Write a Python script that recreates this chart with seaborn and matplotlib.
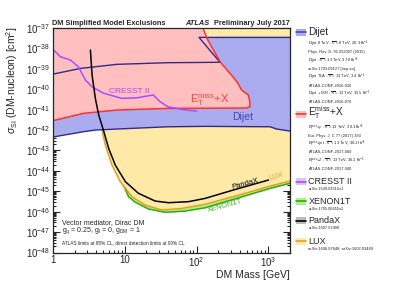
import numpy as np
import seaborn as sns
from matplotlib import pyplot as plt
from matplotlib.lines import Line2D
from matplotlib.patches import Rectangle
from matplotlib.ticker import LogLocator, NullFormatter

# --- values (mass in GeV, cross-section as log10 of cm^2) ---
dijet_low_mass = [1, 2.68, 3.9, 7.8, 40, 131, 1050, 1300, 2000]
dijet_low_logsig = [-42.34, -42.08, -42.0, -41.95, -41.84, -41.82, -41.84, -41.95, -42.05]
dijet_up_mass = [1, 2.41, 7.8, 40, 212, 108, 2000]
dijet_up_logsig = [-39.26, -38.98, -38.78, -38.70, -38.68, -37.46, -37.46]

etmiss_mass = [1, 2.68, 7.8, 40, 500, 553, 553, 524, 424, 377, 321, 212, 139, 123, 118]
etmiss_logsig = [-41.54, -41.18, -41.02, -40.94, -40.92, -40.86, -40.61, -40.28,
                 -40.04, -39.71, -39.39, -38.65, -37.5, -37.0, -36.8]

cresst_mass = [1, 1.27, 1.75, 2.26, 2.83, 3.5, 5.0, 9.1, 14.8, 24.9, 31, 40, 65, 100]
cresst_logsig = [-38.05, -38.41, -38.57, -38.9, -39.55, -39.88, -40.19, -40.45,
                 -40.42, -40.28, -40.61, -40.86, -41.0, -41.07]

pandax_mass = [3.32, 3.5, 3.89, 4.33, 5.08, 5.96, 7.38, 10.2, 15.5, 26.5, 40.6, 76.9, 131, 361, 1000]
pandax_logsig = [-38.08, -39.3, -40.45, -41.26, -42.05, -42.9, -43.72, -44.53, -45.1,
                 -45.48, -45.56, -45.51, -45.35, -44.89, -44.45]

lux_mass = [4.7, 4.95, 5.36, 6.64, 8.66, 12.6, 19.3, 32.9, 62.3, 131, 361, 1050, 2000]
lux_logsig = [-41.55, -42.2, -42.74, -43.72, -44.53, -45.27, -45.68, -45.92, -45.84,
              -45.64, -45.22, -44.75, -44.5]

xenon_mass = [6.0, 7.5, 9.5, 11.3, 14.0, 21.4, 36.5, 69.2, 131, 361, 1050, 2000]
xenon_logsig = [-42.0, -43.9, -44.68, -45.27, -45.54, -45.87, -46.03, -45.97, -45.81,
                -45.35, -44.86, -44.61]

x_ticks = [1, 10, 100, 1000]
x_tick_labels = ["1", "10", r"$10^{2}$", r"$10^{3}$"]

legend_entries = [
    ("Dijet", "#ababef", "#4a4ab0", [
        r"Dijet 8 TeV $\sqrt{s}$ = 8 TeV, 20.3 fb$^{-1}$",
        "Phys. Rev. D. 91 052007 (2015)",
        r"Dijet $\sqrt{s}$ = 13 TeV, 37.0 fb$^{-1}$",
        "arXiv:1703.09127 [hep-ex]",
        r"Dijet TLA $\sqrt{s}$ = 13 TeV, 3.4 fb$^{-1}$",
        "ATLAS-CONF-2016-030",
        r"Dijet + ISR $\sqrt{s}$ = 13 TeV, 15.5 fb$^{-1}$",
        "ATLAS-CONF-2016-070"]),
    (r"E$_{\mathrm{T}}^{\mathrm{miss}}$+X", "#ffbfbf", "#ff3030", [
        r"E$_{\mathrm{T}}^{\mathrm{miss}}$+$\gamma$ $\sqrt{s}$ = 13 TeV, 36.1 fb$^{-1}$",
        "Eur. Phys. J. C 77 (2017) 393",
        r"E$_{\mathrm{T}}^{\mathrm{miss}}$+jet $\sqrt{s}$ = 13 TeV, 36.1 fb$^{-1}$",
        "ATLAS-CONF-2017-060",
        r"E$_{\mathrm{T}}^{\mathrm{miss}}$+Z $\sqrt{s}$ = 13 TeV, 36.1 fb$^{-1}$",
        "ATLAS-CONF-2017-040"]),
    ("CRESST II", "#dcc0ff", "#a64dff", ["arXiv:1509.01515v1"]),
    ("XENON1T", "#b0f08a", "#33aa11", ["arXiv:1705.06655v2"]),
    ("PandaX", "#bbbbbb", "black", ["arXiv:1607.07400"]),
    ("LUX", "#ffe9a6", "#e0a020", ["arXiv:1608.07648; arXiv:1602.03489"]),
]


def sig(logs):
    return 10.0 ** np.array(logs)


sns.set_style("ticks")
plt.rcParams["font.family"] = ["Liberation Sans", "DejaVu Sans"]
plt.rcParams["mathtext.fontset"] = "custom"
plt.rcParams["mathtext.rm"] = "Liberation Sans"
plt.rcParams["mathtext.it"] = "Liberation Sans:italic"
plt.rcParams["mathtext.bf"] = "Liberation Sans:bold"

fig = plt.figure(figsize=(3.99, 2.86), dpi=100)
W, H = 399.0, 286.0
ax = fig.add_axes([53 / W, 1 - 252.5 / H, (290 - 53) / W, (252.5 - 28) / H])
ax.set_xscale("log")
ax.set_yscale("log")
ax.set_xlim(1, 2000)
ax.set_ylim(1e-48, 1e-37)
top = 1e-36

# fills, back to front
ax.fill_between(xenon_mass, sig(xenon_logsig), top, color="#b0f08a", lw=0, zorder=1)
sns.lineplot(x=xenon_mass, y=sig(xenon_logsig), ax=ax, color="#33aa11", lw=1.1,
             estimator=None, sort=False, zorder=1.5)
ax.fill_between(lux_mass, sig(lux_logsig), top, color="#ffe9a6", lw=0, zorder=2)
sns.lineplot(x=lux_mass, y=sig(lux_logsig), ax=ax, color="#e0a020", lw=1.1,
             estimator=None, sort=False, zorder=2.5)

dijet_x = dijet_low_mass + dijet_up_mass[::-1]
dijet_y = list(sig(dijet_low_logsig)) + list(sig(dijet_up_logsig)[::-1])
ax.fill(dijet_x, dijet_y, color="#ababef", lw=0, zorder=3)
ax.fill(etmiss_mass + [1], list(sig(etmiss_logsig)) + [top], color="#ffbfbf", lw=0, zorder=4)

# outlines
sns.lineplot(x=dijet_low_mass, y=sig(dijet_low_logsig), ax=ax, color="#2b2b8f", lw=1.0,
             estimator=None, sort=False, zorder=5)
sns.lineplot(x=dijet_up_mass, y=sig(dijet_up_logsig), ax=ax, color="#2b2b8f", lw=1.0,
             estimator=None, sort=False, zorder=5)
sns.lineplot(x=etmiss_mass, y=sig(etmiss_logsig), ax=ax, color="#ff3030", lw=1.1,
             estimator=None, sort=False, zorder=5)
sns.lineplot(x=cresst_mass, y=sig(cresst_logsig), ax=ax, color="#a64dff", lw=1.1,
             estimator=None, sort=False, zorder=5)
sns.lineplot(x=pandax_mass, y=sig(pandax_logsig), ax=ax, color="black", lw=1.1,
             estimator=None, sort=False, zorder=5)

# in-plot labels
ax.text(11.5, 10 ** -40.12, "CRESST II", color="#a64dff", fontsize=6, ha="center", va="center", zorder=6)
ax.text(154, 10 ** -40.53, r"E$_{\mathrm{T}}^{\mathrm{miss}}$+X", color="#ff4040", fontsize=8,
        ha="center", va="center", zorder=6)
ax.text(438, 10 ** -41.35, "Dijet", color="#4646b0", fontsize=7.5, ha="center", va="center", zorder=6)
ax.text(472, 10 ** -44.62, "PandaX", color="black", fontsize=5.5, rotation=15,
        ha="center", va="center", zorder=6)
ax.text(1300, 10 ** -44.3, "LUX", color="#e0a020", fontsize=5.5, rotation=15,
        ha="center", va="center", zorder=6)
ax.text(249, 10 ** -45.72, "XENON1T", color="#44aa22", fontsize=5.5, rotation=15,
        ha="center", va="center", zorder=6)

# axes style
for s in ax.spines.values():
    s.set_linewidth(0.9)
    s.set_zorder(7)
ax.set_xticks(x_ticks, labels=x_tick_labels)
ax.xaxis.set_minor_formatter(NullFormatter())
ax.yaxis.set_major_locator(LogLocator(base=10, numticks=20))
ax.yaxis.set_minor_locator(LogLocator(base=10, subs=np.arange(2, 10), numticks=200))
ax.yaxis.set_minor_formatter(NullFormatter())
ax.tick_params(which="both", direction="in", top=True, right=True, labelsize=7, width=0.8)
ax.tick_params(which="major", length=5, pad=2.0)
ax.tick_params(which="minor", length=2.5)
for t in ax.get_xticklines() + ax.get_yticklines():
    t.set_zorder(8)

fig.text(12 / W, 1 - 27 / H, r"$\sigma_{\mathrm{SI}}$ (DM-nucleon) [cm$^{2}$]", rotation=90,
         fontsize=7.5, ha="center", va="top")
fig.text(290 / W, 1 - 275 / H, "DM Mass [GeV]", fontsize=7.5, ha="right", va="center")

fig.text(52 / W, 1 - 23.5 / H, "DM Simplified Model Exclusions", fontsize=5.3,
         fontweight="bold", ha="left", va="center")
fig.text(185 / W, 1 - 23.5 / H, "ATLAS", fontsize=5.3, fontweight="bold",
         fontstyle="italic", ha="left", va="center")
fig.text(290 / W, 1 - 23.5 / H, "Preliminary July 2017", fontsize=5.3,
         fontweight="bold", ha="right", va="center")

fig.text(61.5 / W, 1 - 222.5 / H, "Vector mediator, Dirac DM", fontsize=5, ha="left", va="center")
fig.text(61.5 / W, 1 - 231 / H, r"g$_{\mathrm{q}}$ = 0.25, g$_{\mathrm{l}}$ = 0, g$_{\mathrm{DM}}$ = 1",
         fontsize=5, ha="left", va="center")
fig.text(61.5 / W, 1 - 242.7 / H, "ATLAS limits at 95% CL, direct detection limits at 90% CL",
         fontsize=3.4, ha="left", va="center")

# legend
main_y = [32.3, 114.0, 181.7, 201, 220.5, 241]
first_off = [11.5, 13.5, 7.5, 7.5, 7.5, 7.5]
for (name, fc, lc, subs), y0, off in zip(legend_entries, main_y, first_off):
    fig.patches.append(Rectangle((296 / W, 1 - (y0 + 3.5) / H), 10 / W, 7 / H,
                                 transform=fig.transFigure, facecolor=fc, edgecolor="none"))
    fig.lines.append(Line2D([296 / W, 306 / W], [1 - y0 / H, 1 - y0 / H],
                            transform=fig.transFigure, color=lc, lw=1.2))
    fig.text(308.5 / W, 1 - (y0 - (1.0 if "miss" in name else 0)) / H, name,
             fontsize=7.2 if len(subs) > 1 else 6.5, ha="left", va="center")
    step = 8.35 if len(subs) > 6 else 8.3
    for i, s in enumerate(subs):
        fig.text(308.5 / W, 1 - (y0 + off + i * step) / H, s, fontsize=2.9, ha="left", va="center")

fig.savefig("out.png", dpi=100)
